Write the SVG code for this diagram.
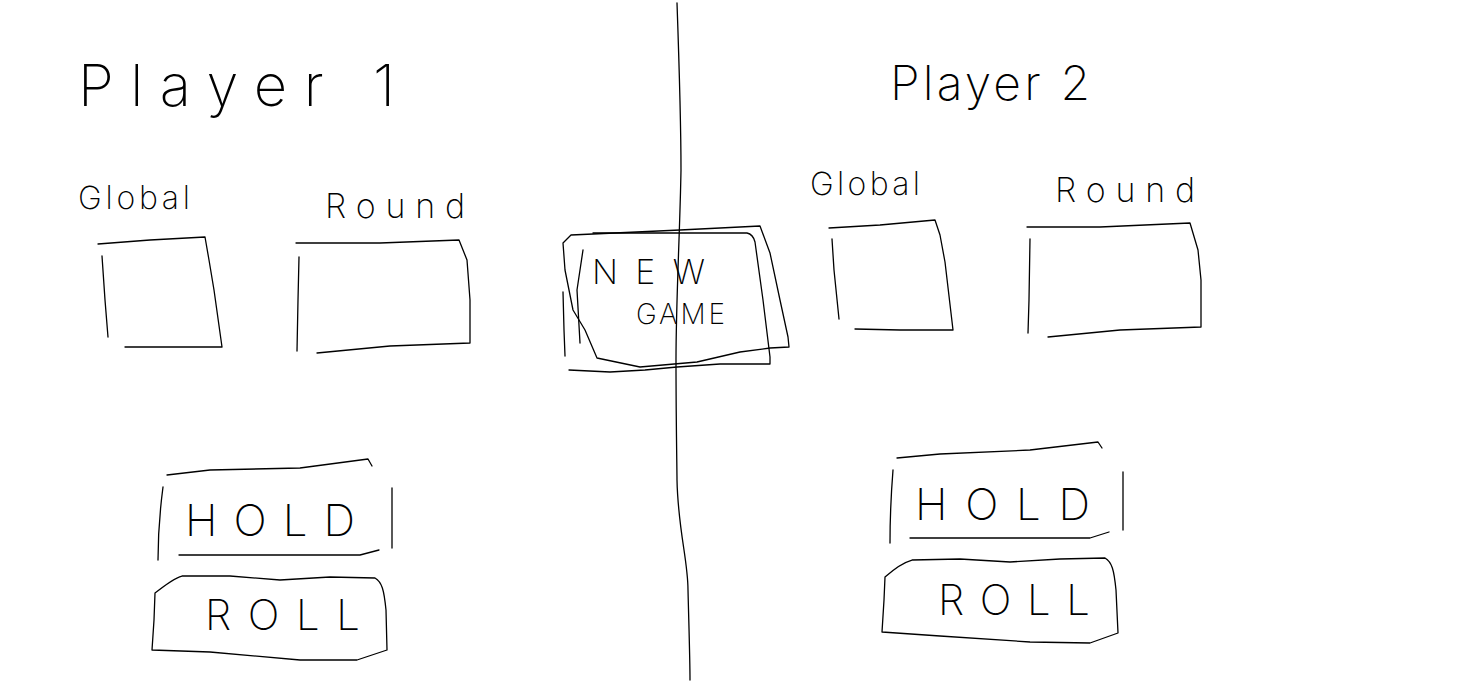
<svg xmlns="http://www.w3.org/2000/svg" width="1481" height="690" viewBox="0 0 1481 690">
<style>
.s{fill:none;stroke:#000;stroke-width:1.3;stroke-linecap:round;stroke-linejoin:round}
.t{font-family:Inter,Lato,"Liberation Sans","DejaVu Sans",sans-serif;fill:#000;font-weight:200}
</style>
<rect width="1481" height="690" fill="#fff"/>
<g id="divider">
<path class="s" d="M677,3 C679,60 681,120 681,170 C680,230 676,300 676,360 C676,420 677,470 677,480 C678,530 688,560 688,590 C689,630 690,660 690,680"/>
</g>
<g id="player1-title"><text class="t" x="78" y="106" font-size="58" textLength="317" lengthAdjust="spacing">Player 1</text></g>
<g id="player2-title"><text class="t" x="890" y="100" font-size="48" textLength="200" lengthAdjust="spacing">Player 2</text></g>
<g id="p1-global">
<text class="t" x="78" y="209" font-size="32" textLength="112" lengthAdjust="spacing">Global</text>
<path class="s" d="M98,244 L150,240 L205,237 L209,260 L214,290 L222,347 L125,347 M102,256 L105,300 L108,337"/>
</g>
<g id="p1-round">
<text class="t" x="325" y="218" font-size="34" textLength="140" lengthAdjust="spacing">Round</text>
<path class="s" d="M296,243 L380,243 L459,240 L467,260 L470,300 L470,343 L390,346 L317,353 M299,257 L298,300 L297,351"/>
</g>
<g id="p2-global">
<text class="t" x="810" y="195" font-size="32" textLength="110" lengthAdjust="spacing">Global</text>
<path class="s" d="M829,228 L880,225 L935,220 L940,235 L945,262 L953,330 L900,330 L855,329 M832,239 L834,270 L839,319"/>
</g>
<g id="p2-round">
<text class="t" x="1055" y="202" font-size="34" textLength="140" lengthAdjust="spacing">Round</text>
<path class="s" d="M1027,227 L1100,227 L1190,223 L1198,250 L1201,280 L1201,327 L1120,330 L1048,337 M1030,239 L1029,300 L1028,333"/>
</g>
<g id="new-game">
<path class="s" d="M563,243 L571,235 L593,234 L680,230 L760,226 L770,253 L780,300 L788,337 L789,347 L770,348 L740,352 L697,362 L640,367 L597,358 L585,330 L573,310 L565,270 Z"/>
<path class="s" d="M593,233 L700,233 L747,233 C752,234 754,238 755,242 L763,300 L770,357 L770,364 M569,370 L610,372 L645,370 L677,367 L720,364 L770,364 M583,250 L577,290 L580,343"/>
<path class="s" d="M563,292 L564,330 L565,356"/>
<text class="t" x="592" y="284" font-size="34" textLength="113" lengthAdjust="spacing">NEW</text>
<text class="t" x="636" y="324" font-size="28" textLength="89" lengthAdjust="spacing">GAME</text>
</g>
<g id="p1-hold">
<path class="s" d="M167,475 L210,470 L300,468 L368,459 L372,466 M163,487 C160,510 158,535 158,560 M392,488 L392,548 M179,555 L300,555 L360,555 L379,550"/>
<text class="t" x="185" y="536" font-size="44" textLength="170" lengthAdjust="spacing">HOLD</text>
</g>
<g id="p1-roll">
<path class="s" d="M155,593 C165,585 175,578 182,576 L230,576 L280,580 L330,577 L375,578 C382,582 384,590 386,610 L387,650 L357,660 L300,660 L210,652 L152,650 L154,620 Z"/>
<text class="t" x="205" y="630" font-size="42" textLength="155" lengthAdjust="spacing">ROLL</text>
</g>
<g id="p2-hold">
<path class="s" d="M897,458 L940,454 L1030,450 L1098,442 L1102,448 M893,470 C891,495 890,520 890,543 M1123,472 L1123,530 M910,538 L1030,538 L1090,538 L1109,532"/>
<text class="t" x="915" y="520" font-size="44" textLength="175" lengthAdjust="spacing">HOLD</text>
</g>
<g id="p2-roll">
<path class="s" d="M885,577 C895,568 905,562 912,560 L960,559 L1010,562 L1060,559 L1105,558 C1112,562 1114,570 1116,590 L1118,633 L1090,643 L1030,642 L940,636 L882,632 L884,600 Z"/>
<text class="t" x="938" y="615" font-size="42" textLength="152" lengthAdjust="spacing">ROLL</text>
</g>
</svg>
